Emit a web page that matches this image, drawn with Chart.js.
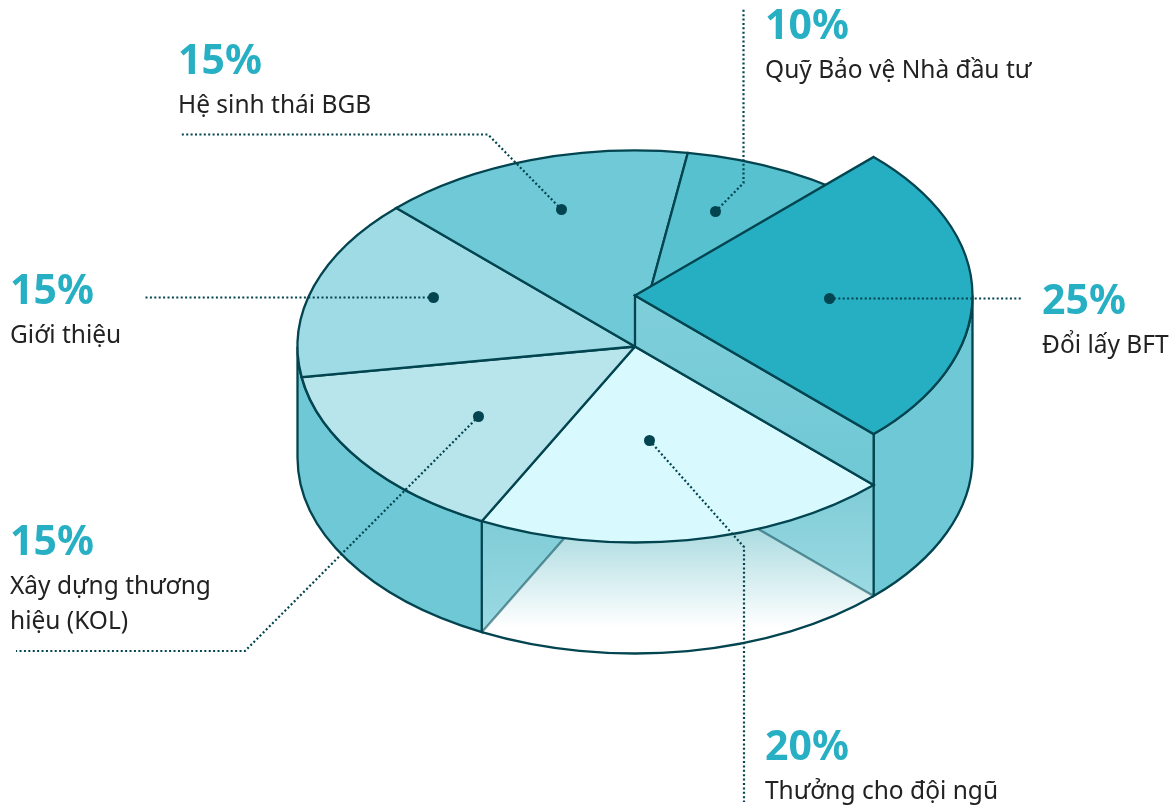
<!DOCTYPE html>
<html lang="vi">
<head>
<meta charset="utf-8">
<title>Phân bổ token</title>
<script src="https://cdn.jsdelivr.net/npm/chart.js@4"></script>
<style>
    html, body { margin: 0; background: #fff; }
    #wrap { position: relative; width: 1174px; height: 807px; overflow: hidden; font-family: "Noto Sans", sans-serif; }
    canvas { position: absolute; left: 0; top: 0; }
    .label { position: absolute; }
    .label b { display: block; font-size: 41px; line-height: 54px; font-weight: 700; color: #27afc3; }
    .label span { display: block; font-size: 24.5px; line-height: 35px; color: #222; margin-top: 1px; }
</style>
</head>
<body>
<div id="wrap"><canvas id="pie" width="1174" height="807"></canvas></div>
<script>
// Slices, clockwise from the lower right edge. The last one is the raised one.
const categories = ['Thưởng cho đội ngũ', 'Xây dựng thương hiệu (KOL)', 'Giới thiệu', 'Hệ sinh thái BGB', 'Quỹ Bảo vệ Nhà đầu tư', 'Đổi lấy BFT'];
const shares = [20, 15, 15, 15, 10, 25];
const sliceColors = ['#d8f9fe', '#b8e4eb', '#9fdbe5', '#70c9d6', '#58c1d0', '#26aec2'];

// Annotation layout, same order as categories
const labelPos = [[765, 717], [10, 512], [10, 261], [178, 31], [765, -4], [1042, 271]];
const labelWidth = [400, 220, 400, 400, 400, 400];
const dots = [[649.5, 440.5], [478.5, 416.5], [433.5, 297.5], [561.5, 209.5], [715.5, 211.5], [829.5, 298.5]];
const leaders = [
    [[744, 547], [744, 802]],
    [[245, 651], [16, 651]],
    [[145, 297.5]],
    [[488, 134.5], [180, 134.5]],
    [[743.5, 183], [743.5, 8]],
    [[1023, 298.5]]
];

const squash = 196 / 337.5;
const depth = 111;
const lift = 51;
const lineColor = '#02444f';
const wallColor = '#6fc8d5';

function ry(el) { return el.outerRadius * squash; }
function rimX(el, a) { return el.x + el.outerRadius * Math.cos(a); }
function rimY(el, a, dy) { return el.y + dy + ry(el) * Math.sin(a); }

function sectorPath(ctx, el, dy) {
    ctx.beginPath();
    ctx.moveTo(el.x, el.y + dy);
    ctx.ellipse(el.x, el.y + dy, el.outerRadius, ry(el), 0, el.startAngle, el.endAngle);
    ctx.closePath();
}

// outer skin between two rim angles
function wallPath(ctx, el, a0, a1, topDy, botDy) {
    ctx.beginPath();
    ctx.ellipse(el.x, el.y + topDy, el.outerRadius, ry(el), 0, a0, a1);
    ctx.ellipse(el.x, el.y + botDy, el.outerRadius, ry(el), 0, a1, a0, true);
    ctx.closePath();
}

// flat cut face from the centre out to a rim angle
function facePath(ctx, el, a, topDy, botDy) {
    ctx.beginPath();
    ctx.moveTo(el.x, el.y + topDy);
    ctx.lineTo(rimX(el, a), rimY(el, a, topDy));
    ctx.lineTo(rimX(el, a), rimY(el, a, botDy));
    ctx.lineTo(el.x, el.y + botDy);
    ctx.closePath();
}

function vGradient(ctx, y0, c0, y1, c1) {
    const g = ctx.createLinearGradient(0, y0, 0, y1);
    g.addColorStop(0, c0);
    g.addColorStop(1, c1);
    return g;
}

function drawTop(chart, ctx, el, dy) {
    // fill comes from the arc element itself, squashed into an ellipse
    ctx.save();
    ctx.translate(el.x, el.y + dy);
    ctx.scale(1, squash);
    ctx.translate(-el.x, -el.y);
    el.draw(ctx, chart.chartArea);
    ctx.restore();
    sectorPath(ctx, el, dy);
    ctx.stroke();
}

const tiltedPie = {
    id: 'tiltedPie',
    beforeDatasetDraw(chart) {
        const ctx = chart.ctx;
        const arcs = chart.getDatasetMeta(0).data;
        const glass = arcs[0];
        const raised = arcs[arcs.length - 1];
        const a0 = glass.startAngle;
        const a1 = glass.endAngle;

        ctx.save();
        ctx.strokeStyle = lineColor;
        ctx.lineWidth = 2.3;
        ctx.lineJoin = 'miter';

        // floor seen through the open slice
        const floorTop = glass.y + ry(glass);
        sectorPath(ctx, glass, depth);
        ctx.fillStyle = vGradient(ctx, floorTop - 8, '#b0dde2', floorTop + 85, '#ffffff');
        ctx.fill();
        ctx.beginPath();
        ctx.ellipse(glass.x, glass.y + depth, glass.outerRadius, ry(glass), 0, a0, a1);
        ctx.stroke();

        // inner faces of the opening
        [a0, a1].forEach(a => {
            const yTop = rimY(glass, a, 0);
            facePath(ctx, glass, a, 0, depth);
            ctx.fillStyle = vGradient(ctx, yTop, '#7fccd7', yTop + depth, '#9cdae3');
            ctx.fill();
            ctx.save();
            ctx.globalAlpha = 0.55;
            ctx.beginPath();
            ctx.moveTo(rimX(glass, a), rimY(glass, a, depth));
            ctx.lineTo(glass.x, glass.y + depth);
            ctx.stroke();
            ctx.restore();
        });

        // outer walls: front left, and right side under the raised slice
        wallPath(ctx, glass, a1, Math.PI, 0, depth);
        ctx.fillStyle = wallColor;
        ctx.fill();
        ctx.stroke();
        wallPath(ctx, raised, Math.PI * 2, raised.endAngle, -lift, depth);
        ctx.fill();
        ctx.stroke();

        arcs.slice(0, -1).forEach(el => drawTop(chart, ctx, el, 0));

        // cut face of the raised slice, then its top
        facePath(ctx, raised, raised.endAngle, -lift, 0);
        ctx.fillStyle = vGradient(ctx, raised.y - lift, '#7fcfda', rimY(raised, raised.endAngle, 0), '#6fc8d5');
        ctx.fill();
        ctx.stroke();
        drawTop(chart, ctx, raised, -lift);

        ctx.restore();
        return false;
    },
    afterDatasetsDraw(chart) {
        const ctx = chart.ctx;
        ctx.save();
        ctx.strokeStyle = lineColor;
        ctx.fillStyle = lineColor;
        ctx.lineWidth = 2.2;
        ctx.setLineDash([2, 2.4]);
        dots.forEach((d, i) => {
            ctx.beginPath();
            ctx.moveTo(d[0], d[1]);
            leaders[i].forEach(p => ctx.lineTo(p[0], p[1]));
            ctx.stroke();
        });
        ctx.setLineDash([]);
        dots.forEach(d => {
            ctx.beginPath();
            ctx.arc(d[0], d[1], 5.5, 0, Math.PI * 2);
            ctx.fill();
        });
        ctx.restore();
    }
};

new Chart(document.getElementById('pie').getContext('2d'), {
    type: 'pie',
    data: {
        labels: categories,
        datasets: [{ data: shares, backgroundColor: sliceColors, borderWidth: 0 }]
    },
    options: {
        responsive: false,
        animation: false,
        rotation: 135,
        layout: { padding: { left: 297.5, right: 201.5, top: 9, bottom: 123 } },
        events: [],
        plugins: { legend: { display: false }, tooltip: { enabled: false } }
    },
    plugins: [tiltedPie]
});

// Text labels
const wrap = document.getElementById('wrap');
categories.forEach((name, i) => {
    const box = document.createElement('div');
    box.className = 'label';
    box.style.left = labelPos[i][0] + 'px';
    box.style.top = labelPos[i][1] + 'px';
    box.style.width = labelWidth[i] + 'px';
    box.innerHTML = '<b>' + shares[i] + '%</b><span>' + name + '</span>';
    wrap.appendChild(box);
});
</script>
</body>
</html>
